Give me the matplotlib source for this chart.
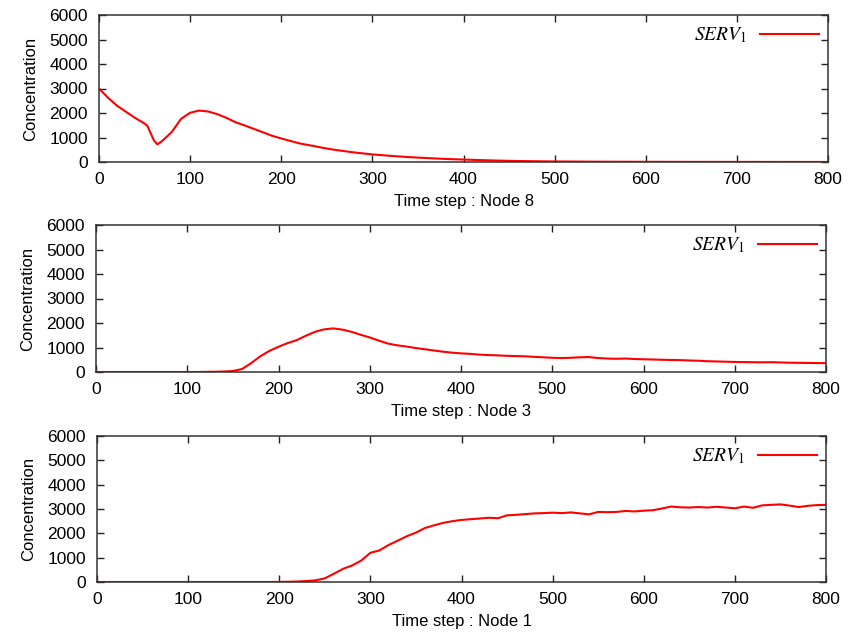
import matplotlib
matplotlib.use("Agg")
import matplotlib.pyplot as plt
import numpy as np

plt.rcParams['font.family'] = ['Liberation Sans', 'DejaVu Sans']
plt.rcParams['mathtext.fontset'] = 'stix'

# SERV_1 concentration per node, sampled from the simulation output
t_node8 = [0, 10, 20, 30, 40, 50, 53, 57, 60, 64, 68, 72, 80, 90, 100, 110, 120, 130, 140,
           150, 160, 170, 180, 190, 200, 210, 220, 230, 240, 250, 260, 270, 280, 290, 300,
           320, 340, 360, 380, 400, 420, 440, 460, 480, 500, 550, 600, 650, 700, 750, 800]
c_node8 = [3000, 2620, 2290, 2040, 1790, 1570, 1480, 1150, 900, 720, 820, 950, 1230, 1760,
           2010, 2100, 2060, 1950, 1800, 1620, 1490, 1350, 1210, 1070, 960, 860, 760, 690,
           620, 550, 490, 440, 390, 350, 310, 250, 200, 160, 125, 100, 75, 55, 40, 30, 22,
           12, 8, 5, 4, 3, 2]

t_node3 = list(range(0, 801, 10))
c_node3 = [0, 0, 0, 0, 0, 0, 0, 0, 0, 0, 0, 0, 5, 10, 20, 40, 120, 360, 640, 860,
           1030, 1180, 1300, 1480, 1640, 1740, 1780, 1730, 1640, 1520, 1410, 1280, 1160, 1090,
           1040, 980, 930, 880, 830, 790, 760, 740, 710, 690, 680, 660, 650, 640, 620, 600,
           580, 570, 580, 600, 610, 570, 550, 540, 550, 530, 520, 510, 500, 490, 485, 470,
           460, 440, 430, 420, 410, 405, 400, 395, 400, 390, 380, 375, 370, 365, 360]

t_node1 = list(range(0, 801, 10))
c_node1 = [0, 0, 0, 0, 0, 0, 0, 0, 0, 0, 0, 0, 0, 0, 0, 0, 0, 0, 0, 0,
           5, 10, 20, 40, 70, 150, 340, 540, 680, 880, 1200, 1300, 1520, 1700, 1880, 2030,
           2220, 2330, 2430, 2500, 2550, 2580, 2610, 2640, 2620, 2740, 2760, 2790, 2820, 2830,
           2850, 2830, 2860, 2820, 2780, 2880, 2870, 2880, 2920, 2900, 2930, 2950, 3020, 3100,
           3070, 3060, 3080, 3060, 3090, 3060, 3030, 3100, 3050, 3150, 3170, 3190, 3140, 3080,
           3130, 3160, 3170]

panels = [
    (t_node8, c_node8, "Time step : Node 8", [99, 15, 828, 162]),
    (t_node3, c_node3, "Time step : Node 3", [96, 225, 826, 372]),
    (t_node1, c_node1, "Time step : Node 1", [97, 436, 826, 582]),
]

W, H = 849, 639
fig = plt.figure(figsize=(W / 100, H / 100), dpi=100)

for t, c, xlab, (x0, y0, x1, y1) in panels:
    ax = fig.add_axes([x0 / W, (H - y1) / H, (x1 - x0) / W, (y1 - y0) / H])
    ax.plot(t, c, color='#ff0000', lw=1.5, label=r'$\mathit{SERV}_{\mathit{1}}$')
    ax.set_xlim(0, 800)
    ax.set_ylim(0, 6000)
    ax.set_xticks(np.arange(0, 801, 100))
    ax.set_yticks(np.arange(0, 6001, 1000))
    ax.tick_params(direction='in', top=True, right=True, length=5, width=1,
                   labelsize=12.5, colors='#222222', labelcolor='black')
    ax.tick_params(axis='x', pad=7)
    ax.tick_params(axis='y', pad=8)
    for s in ax.spines.values():
        s.set_linewidth(1.1)
        s.set_color('#333333')
    ax.set_xlabel(xlab, fontsize=12, labelpad=5)
    ax.set_ylabel("Concentration", fontsize=12, labelpad=8)
    ax.legend(loc='upper right', frameon=False, markerfirst=False,
              handlelength=3.0, handletextpad=0.7, fontsize=14, borderaxespad=0.15,
              bbox_to_anchor=(1.002, 1.0))

fig.savefig("out.png", dpi=100)
